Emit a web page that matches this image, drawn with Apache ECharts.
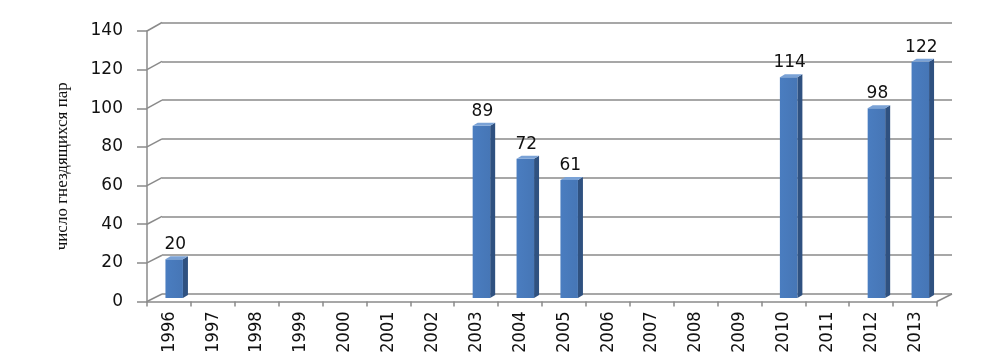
<!DOCTYPE html>
<html>
<head>
<meta charset="utf-8">
<script src="https://cdn.jsdelivr.net/npm/echarts@6/dist/echarts.min.js"></script>
<style>
html,body{margin:0;padding:0;background:#fff;}
#c{width:997px;height:358px;}
</style>
</head>
<body>
<div id="c"></div>
<script>
var years = ['1996','1997','1998','1999','2000','2001','2002','2003','2004','2005','2006','2007','2008','2009','2010','2011','2012','2013'];
var pairs = [20, null, null, null, null, null, null, 89, 72, 61, null, null, null, null, 114, null, 98, 122];
var yTicks = [0, 20, 40, 60, 80, 100, 120, 140];
var yName = 'число гнездящихся пар';

var GRID = '#8a8a8a';
var chart = echarts.init(document.getElementById('c'));

var barData = [];
for (var i = 0; i < years.length; i++) {
  if (pairs[i] != null) barData.push([i, pairs[i]]);
}

function renderBar(params, api) {
  var idx = api.value(0), v = api.value(1);
  var top = api.coord([idx, v]);
  var bot = api.coord([idx, 0]);
  var c = top[0];
  var l = c - 11, r = c + 6.5, d = 5, h = 3;
  var yt = top[1], yb = bot[1];
  return {
    type: 'group',
    children: [
      { type: 'polygon', shape: { points: [[r, yt], [r + d, yt - h], [r + d, yb - h], [r, yb]] },
        style: { fill: '#2f5180' } },
      { type: 'rect', shape: { x: l, y: yt, width: r - l, height: yb - yt },
        style: { fill: new echarts.graphic.LinearGradient(0, 0, 1, 0, [
          { offset: 0, color: '#4a7dc0' }, { offset: 1, color: '#4676b6' }]) } },
      { type: 'polygon', shape: { points: [[l, yt], [r, yt], [r + d, yt - h], [l + d, yt - h]] },
        style: { fill: '#7aa2d6' } },
      { type: 'text', style: { text: String(v), x: (l + r) / 2 + 1, y: yt - 6,
        align: 'center', verticalAlign: 'bottom',
        font: '17px "DejaVu Sans", Verdana, sans-serif', fill: '#111' } }
    ]
  };
}

function renderConn(params, api) {
  var v = api.value(0);
  var first = api.coord([0, v]);
  var band = api.size([1, 0])[0];
  var x0 = first[0] - band / 2;
  var y0 = first[1];
  var dy = 7.5 + v / 140;
  var children = [
    { type: 'line', shape: { x1: x0, y1: y0, x2: x0 + 15, y2: y0 - dy },
      style: { stroke: GRID, lineWidth: 1.5 } }
  ];
  if (v === 0) {
    var last = api.coord([years.length - 1, 0]);
    var xr = last[0] + band / 2;
    children.push({ type: 'line', shape: { x1: xr, y1: y0, x2: xr + 15, y2: y0 - dy },
      style: { stroke: GRID, lineWidth: 1.5 } });
  }
  return { type: 'group', children: children };
}

var option = {
  animation: false,
  backgroundColor: '#fff',
  grid: [
    { left: 147, right: 60, top: 31, bottom: 56.5 },   // front
    { left: 162, right: 45, top: 22.5, bottom: 64 },   // back wall
    { left: 154.5, right: 52.5, top: 27, bottom: 60 }  // middle (bars)
  ],
  xAxis: [
    { gridIndex: 0, type: 'category', data: years, boundaryGap: true,
      axisLine: { show: true, lineStyle: { color: GRID, width: 1.5 } },
      axisTick: { show: true, length: 5, lineStyle: { color: GRID, width: 1.5 } },
      axisLabel: { rotate: 90, margin: 10, color: '#111', fontSize: 18,
        fontFamily: '"Liberation Sans Narrow", "DejaVu Sans Condensed", sans-serif' },
      splitLine: { show: false } },
    { gridIndex: 1, type: 'category', data: years, show: false },
    { gridIndex: 2, type: 'category', data: years, show: false }
  ],
  yAxis: [
    { gridIndex: 0, type: 'value', min: 0, max: 140, interval: 20,
      name: yName, nameLocation: 'middle', nameRotate: 90, nameGap: 76,
      nameTextStyle: { fontSize: 17, color: '#111', fontFamily: '"Liberation Serif", serif' },
      axisLine: { show: true, lineStyle: { color: GRID, width: 1.5 } },
      axisTick: { show: true, length: 10, lineStyle: { color: GRID, width: 1.5 } },
      axisLabel: { margin: 24, color: '#111', fontSize: 17,
        fontFamily: '"DejaVu Sans", Verdana, sans-serif' },
      splitLine: { show: false } },
    { gridIndex: 1, type: 'value', min: 0, max: 140, interval: 20,
      axisLine: { show: false }, axisTick: { show: false }, axisLabel: { show: false },
      splitLine: { show: true, lineStyle: { color: GRID, width: 1.5 } } },
    { gridIndex: 2, type: 'value', min: 0, max: 140, interval: 20, show: false,
      splitLine: { show: false } }
  ],
  series: [
    { type: 'custom', xAxisIndex: 0, yAxisIndex: 0, renderItem: renderConn,
      data: yTicks.map(function (t) { return [t]; }), encode: { y: 0 }, silent: true, z: 1 },
    { type: 'custom', xAxisIndex: 2, yAxisIndex: 2, renderItem: renderBar,
      data: barData, encode: { x: 0, y: 1 }, z: 5 }
  ]
};
chart.setOption(option);
</script>
</body>
</html>
